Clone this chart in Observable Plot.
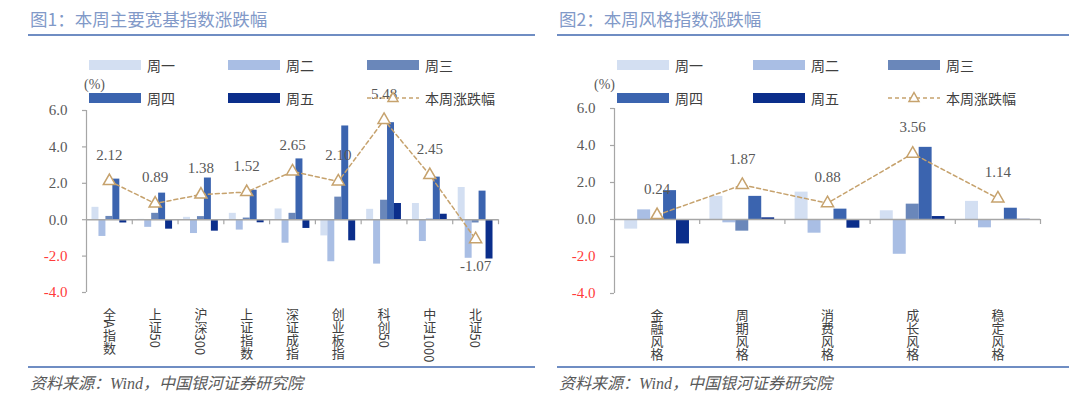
<!DOCTYPE html>
<html><head><meta charset="utf-8">
<script src="https://cdn.jsdelivr.net/npm/d3@7"></script>
<script src="https://cdn.jsdelivr.net/npm/@observablehq/plot@0.6"></script>
<style>
html,body{margin:0;padding:0;background:#fff;}
body{width:1080px;height:397px;overflow:hidden;position:relative;font-family:"Noto Sans CJK SC",sans-serif;}
.panel{position:absolute;top:0;width:540px;height:397px;}
.title{position:absolute;top:6px;font-size:17.5px;line-height:26px;color:#8199C8;white-space:nowrap;}
.hr{position:absolute;height:2px;background:#6F8DC3;}
.cap{position:absolute;top:372px;font-style:italic;font-size:16px;line-height:24px;color:#595959;white-space:nowrap;font-family:"Liberation Serif","Noto Sans CJK SC",serif;}
.sw{position:absolute;width:52px;height:10px;}
.lt{position:absolute;font-size:14px;line-height:20px;color:#404040;white-space:nowrap;}
.pct{position:absolute;font-size:14px;line-height:20px;color:#595959;font-family:"Liberation Serif",serif;}
.plot{position:absolute;left:0;top:0;}
</style>
</head><body>
<div id="p1" class="panel" style="left:0">
  <div id="c1" class="plot"></div>
  <div class="title" style="left:30px">图1：本周主要宽基指数涨跌幅</div>
  <div class="hr" style="left:28px;width:507px;top:34px"></div>
  <div class="pct" style="left:84px;top:75px">(%)</div>
  <div class="lg" id="l1"></div>
  <div class="hr" style="left:28px;width:507px;top:366px"></div>
  <div class="cap" style="left:30px">资料来源：Wind，中国银河证券研究院</div>
</div>
<div id="p2" class="panel" style="left:540px">
  <div id="c2" class="plot"></div>
  <div class="title" style="left:19px">图2：本周风格指数涨跌幅</div>
  <div class="hr" style="left:17px;width:512px;top:34px"></div>
  <div class="pct" style="left:54px;top:75px">(%)</div>
  <div class="lg" id="l2"></div>
  <div class="hr" style="left:17px;width:512px;top:366px"></div>
  <div class="cap" style="left:19px">资料来源：Wind，中国银河证券研究院</div>
</div>
<script>
// ---- data ----
const days = ["周一","周二","周三","周四","周五"];
const weekLabel = "本周涨跌幅";
const broadNames = ["全A指数","上证50","沪深300","上证指数","深证成指","创业板指","科创50","中证1000","北证50"];
const broadMon = [0.68, 0.02, 0.13, 0.35, 0.59, -0.89, 0.57, 0.89, 1.77];
const broadTue = [-0.92, -0.42, -0.76, -0.57, -1.29, -2.31, -2.44, -1.20, -2.12];
const broadWed = [0.18, 0.35, 0.17, 0.09, 0.35, 1.24, 1.07, 0.03, -0.18];
const broadThu = [2.23, 1.46, 2.29, 1.62, 3.34, 5.15, 5.33, 2.34, 1.57];
const broadFri = [-0.18, -0.52, -0.63, -0.17, -0.48, -1.16, 0.89, 0.30, -2.16];
const broadWeek = [2.12, 0.89, 1.38, 1.52, 2.65, 2.10, 5.48, 2.45, -1.07];

const styleNames = ["金融风格","周期风格","消费风格","成长风格","稳定风格"];
const styleMon = [-0.52, 1.25, 1.48, 0.47, 0.98];
const styleTue = [0.52, -0.18, -0.74, -1.88, -0.45];
const styleWed = [0.00, -0.63, 0.00, 0.83, 0.00];
const styleThu = [1.56, 1.25, 0.56, 3.90, 0.61];
const styleFri = [-1.32, 0.09, -0.47, 0.16, 0.01];
const styleWeek = [0.24, 1.87, 0.88, 3.56, 1.14];

const yTicks = [-4, -2, 0, 2, 4, 6];

// ---- styles ----
const colors = ["#D3DFF2", "#A9BEE4", "#6A87BA", "#3B64AF", "#0B2E8B"];
const lineColor = "#C6A26D";
const axisColor = "#A6A6A6";

function chart({names, series, week, ml, mr, mt, mb}) {
  const n = names.length;
  const bw = 0.152;
  const rows = names.flatMap((name, i) => series.map((s, j) => ({i, j, day: days[j], v: s[i]})));
  const pts = names.map((name, i) => ({i, v: week[i]}));
  const bounds = d3.range(1, n + 1).map(k => k - 0.5);
  const svg = Plot.plot({
    width: 540, height: 397,
    marginLeft: ml, marginRight: mr, marginTop: mt, marginBottom: mb,
    style: {background: "transparent", fontFamily: '"Liberation Serif", serif', fontSize: "15px", overflow: "visible"},
    x: {type: "linear", domain: [-0.5, n - 0.5]},
    y: {domain: [-4, 6]},
    color: {domain: days, range: colors},
    marks: [
      Plot.rectY(rows, {x1: d => d.i - 2.5 * bw + d.j * bw, x2: d => d.i - 2.5 * bw + (d.j + 1) * bw, y1: 0, y2: "v", fill: "day"}),
      Plot.ruleX([-0.5], {stroke: axisColor, strokeWidth: 1.2}),
      Plot.ruleY(yTicks, {y: d => d, x1: -0.5, x2: -0.5, insetLeft: -4, stroke: axisColor, strokeWidth: 1.2}),
      Plot.ruleY([0], {stroke: axisColor, strokeWidth: 1.5}),
      Plot.ruleX(bounds, {x: d => d, y1: 0, y2: 0, insetBottom: -5, stroke: axisColor, strokeWidth: 1.2}),
      Plot.axisY({ticks: yTicks.filter(t => t >= 0), tickSize: 0, tickPadding: 19, tickFormat: d => d.toFixed(1), fill: "#595959", label: null}),
      Plot.axisY({ticks: yTicks.filter(t => t < 0), tickSize: 0, tickPadding: 19, tickFormat: d => d.toFixed(1), fill: "#FF3B3B", label: null}),
      Plot.line(pts, {x: "i", y: "v", stroke: lineColor, strokeWidth: 1.5, strokeDasharray: "4,3"}),
      Plot.dot(pts, {x: "i", y: "v", symbol: "triangle", r: 4.5, stroke: lineColor, strokeWidth: 1.5, fill: "white"}),
      Plot.text(pts.filter(d => d.v >= 0), {x: "i", y: "v", text: d => d.v.toFixed(2), dy: -26, fill: "#595959", fontSize: 15}),
      Plot.text(pts.filter(d => d.v < 0), {x: "i", y: "v", text: d => d.v.toFixed(2), dy: 27, fill: "#595959", fontSize: 15}),
      Plot.axisX({ticks: d3.range(n), tickFormat: i => names[i], tickSize: 0, tickPadding: 15, fill: "#404040", label: null})
    ]
  });
  d3.select(svg).selectAll('g[aria-label="x-axis tick label"] text')
    .attr("y", null).attr("dy", null)
    .attr("text-anchor", "start")
    .style("writing-mode", "vertical-rl")
    .style("font-family", '"Noto Sans CJK SC", sans-serif')
    .style("font-size", "13px");
  return svg;
}

function legend(el, sx, tx) {
  const html = [];
  const rowTop = [60, 93];
  days.forEach((d, k) => {
    const r = Math.floor(k / 3), c = k % 3;
    html.push(`<div class="sw" style="left:${sx[c]}px;top:${rowTop[r]}px;background:${colors[k]}"></div>`);
    html.push(`<div class="lt" style="left:${tx[c]}px;top:${rowTop[r] - 5}px">${d}</div>`);
  });
  html.push(`<svg style="position:absolute;left:${sx[2]}px;top:${rowTop[1] - 3}px" width="52" height="16">
    <line x1="0" y1="8" x2="52" y2="8" stroke="${lineColor}" stroke-width="1.5" stroke-dasharray="4,3"/>
    <path d="M26,2.5 L31,11.5 L21,11.5 Z" fill="white" stroke="${lineColor}" stroke-width="1.5"/></svg>`);
  html.push(`<div class="lt" style="left:${tx[2]}px;top:${rowTop[1] - 5}px">${weekLabel}</div>`);
  el.innerHTML = html.join("");
}

document.getElementById("c1").appendChild(chart({
  names: broadNames, series: [broadMon, broadTue, broadWed, broadThu, broadFri], week: broadWeek,
  ml: 86, mr: 42, mt: 110, mb: 105
}));
document.getElementById("c2").appendChild(chart({
  names: styleNames, series: [styleMon, styleTue, styleWed, styleThu, styleFri], week: styleWeek,
  ml: 74, mr: 40, mt: 108, mb: 104
}));
legend(document.getElementById("l1"), [89, 228, 367], [147, 286, 425]);
legend(document.getElementById("l2"), [77, 213, 348], [135, 271, 406]);
</script>
</body></html>
